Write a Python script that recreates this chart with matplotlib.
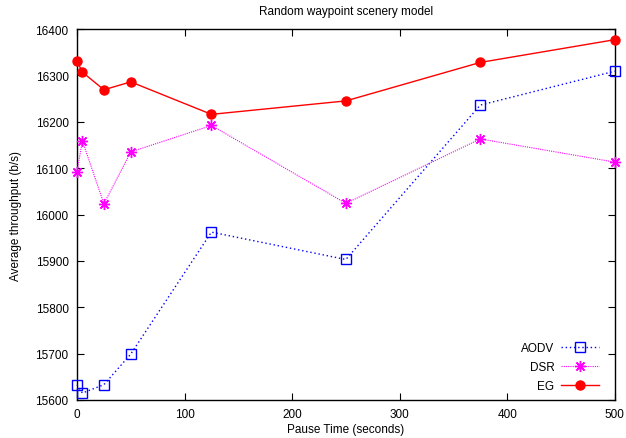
import matplotlib
matplotlib.use('Agg')
import matplotlib.pyplot as plt

pause_time = [0, 5, 25, 50, 125, 250, 375, 500]
aodv = [15633, 15615, 15633, 15699, 15962, 15903, 16236, 16309]
dsr = [16092, 16159, 16023, 16135, 16192, 16024, 16163, 16113]
eg = [16331, 16307, 16269, 16286, 16216, 16245, 16328, 16377]

plt.rcParams['font.family'] = ['Liberation Sans', 'DejaVu Sans']
plt.rcParams['font.size'] = 8.5

fig = plt.figure(figsize=(6.26, 4.39), dpi=100)
ax = fig.add_axes([0.123, 0.0866, 0.859, 0.845])

ax.plot(pause_time, aodv, color='#0000ff', ls=(0, (1, 2)), lw=1,
        marker='s', mfc='none', mec='#0000ff', ms=6.5, mew=1, label='AODV',
        clip_on=False, zorder=3)
ax.plot(pause_time, dsr, color='#ff00ff', ls=(0, (1, 1)), lw=0.8,
        marker=(8, 2, 0), ms=8, mew=1, mec='#ff00ff', label='DSR',
        clip_on=False, zorder=3)
ax.plot(pause_time, eg, color='#ff0000', ls='-', lw=1,
        marker='o', ms=6.5, label='EG', clip_on=False, zorder=3)

ax.set_xlim(0, 500)
ax.set_ylim(15600, 16400)
ax.set_xticks(range(0, 501, 100))
ax.set_yticks(range(15600, 16401, 100))
ax.tick_params(direction='in', top=True, right=True, length=5, width=0.8,
               pad=6)
for s in ax.spines.values():
    s.set_linewidth(1)

ax.set_title('Random waypoint scenery model', fontsize=8.5, pad=11)
ax.set_xlabel('Pause Time (seconds)', labelpad=2)
ax.set_ylabel('Average throughput (b/s)', labelpad=10)

ax.legend(loc='lower right', bbox_to_anchor=(0.991, -0.008), frameon=False,
          markerfirst=False, handlelength=3.2, labelspacing=0.6,
          borderaxespad=0.5, handletextpad=0.6)

fig.savefig('out.png', dpi=100)
